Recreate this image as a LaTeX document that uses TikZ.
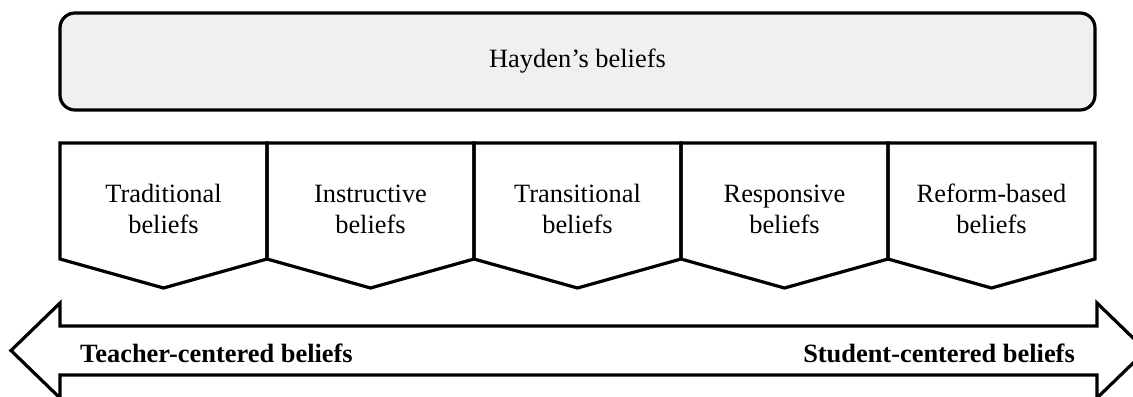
\documentclass[tikz,border=0pt]{standalone}
\usepackage{fontspec}
\setmainfont{Liberation Serif}
\begin{document}
\begin{tikzpicture}[x=1bp, y=-1bp,
  outline/.style={draw=black, line width=3.2bp, line join=miter},
  topbox/.style={outline, fill=black!6, rounded corners=15bp,
    minimum width=1035bp, minimum height=97bp, inner sep=0pt,
    font=\fontsize{26.5}{32}\selectfont},
  stagelabel/.style={align=center, inner sep=0pt,
    font=\fontsize{26.5}{32}\selectfont},
  endlabel/.style={inner sep=0pt, font=\fontsize{26.5}{32}\selectfont\bfseries}]
\useasboundingbox (0,0) rectangle (1133,396);

% overall belief box
\node[topbox] (hayden) at (577.5,61.5) {Hayden’s beliefs};

% five belief stages as downward pentagons
\foreach \i/\first in {0/Traditional, 1/Instructive, 2/Transitional,
    3/Responsive, 4/Reform-based} {
  \pgfmathsetmacro{\xl}{60+207*\i}
  \pgfmathsetmacro{\xr}{\xl+207}
  \pgfmathsetmacro{\xm}{\xl+103.5}
  \draw[outline] (\xl,143) -- (\xr,143) -- (\xr,259) -- (\xm,288) -- (\xl,259) -- cycle;
  \node[stagelabel] (stage\i) at (\xm,211.6) {\strut\first\\\strut beliefs};
}

% double-headed block arrow
\draw[outline] (60,326) -- (1097,326) -- (1097,303) -- (1146,350.5) -- (1097,398)
  -- (1097,375) -- (60,375) -- (60,398) -- (11,350.5) -- (60,303) -- cycle;
\node[endlabel, anchor=base west] (teacher) at (80,362) {Teacher-centered beliefs};
\node[endlabel, anchor=base east] (student) at (1075,362) {Student-centered beliefs};
\end{tikzpicture}
\end{document}
